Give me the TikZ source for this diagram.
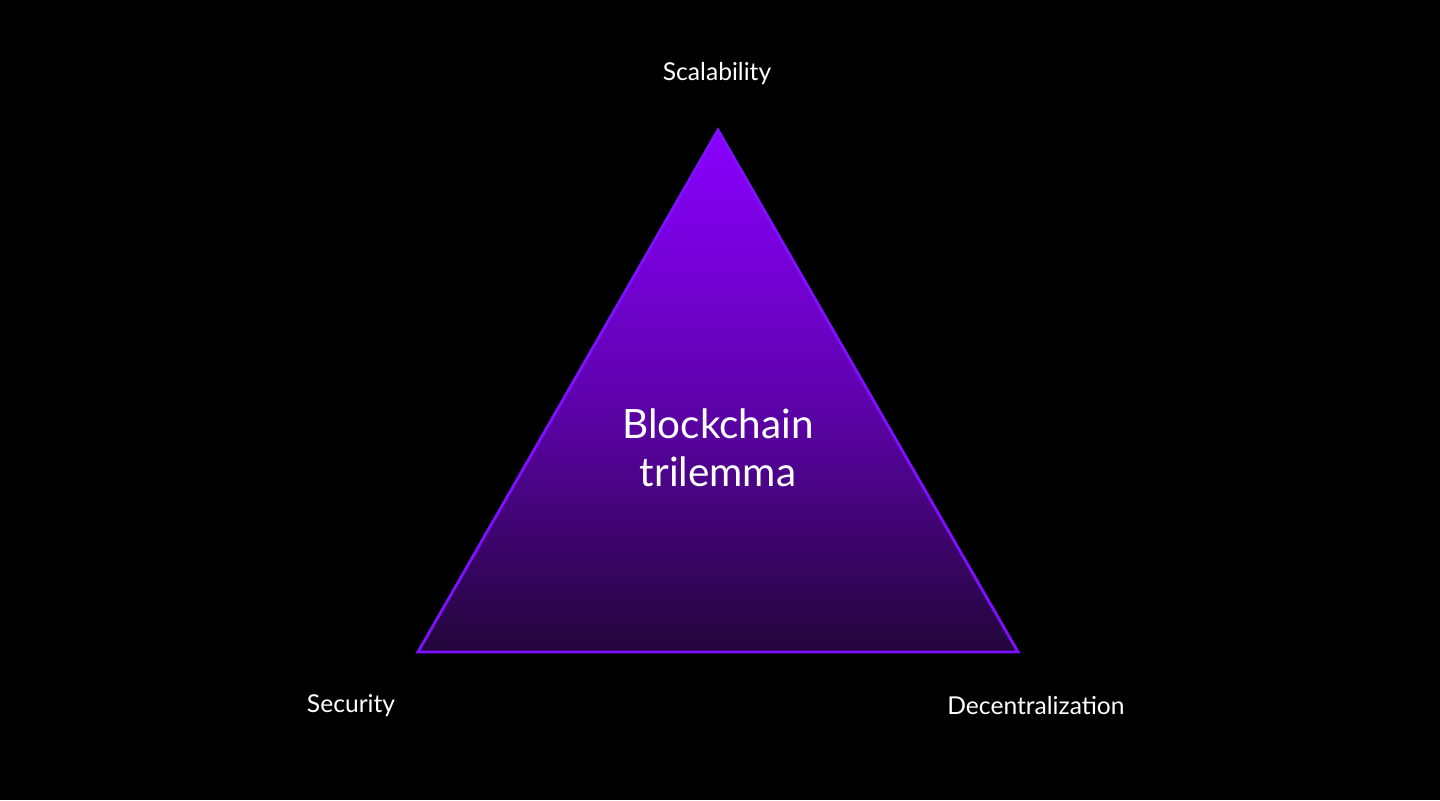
\documentclass[tikz,border=0pt]{standalone}
\usepackage{fontspec}
\setmainfont{Lato}
\begin{document}
\begin{tikzpicture}[x=0.01cm,y=-0.01cm,
  lbl/.style={text=white,font=\fontsize{7}{8.5}\selectfont,inner sep=0pt},
  ttl/.style={text=white,font=\fontsize{11.5}{13.5}\selectfont,align=center,inner sep=0pt}]
\definecolor{vtop}{HTML}{8A00FF}
\definecolor{vbot}{HTML}{22063A}
\definecolor{vedge}{HTML}{7F10FF}
\fill[black] (0,0) rectangle (1440,800);
\useasboundingbox (0,0) rectangle (1440,800);
\coordinate (A) at (718,130);
\coordinate (B) at (418,652);
\coordinate (C) at (1018,652);
\shade[top color=vtop,bottom color=vbot,middle color=vtop!60!vbot] (A) -- (B) -- (C) -- cycle;
\draw[vedge,line width=0.8pt,line join=miter] (A) -- (B) -- (C) -- cycle;
\node[ttl] (t) at (718,448) {Blockchain\\trilemma};
\node[lbl] (s1) at (717,74) {Scalability};
\node[lbl] (s2) at (351,706) {Security};
\node[lbl] (s3) at (1036,706) {Decentralization};
\end{tikzpicture}
\end{document}
